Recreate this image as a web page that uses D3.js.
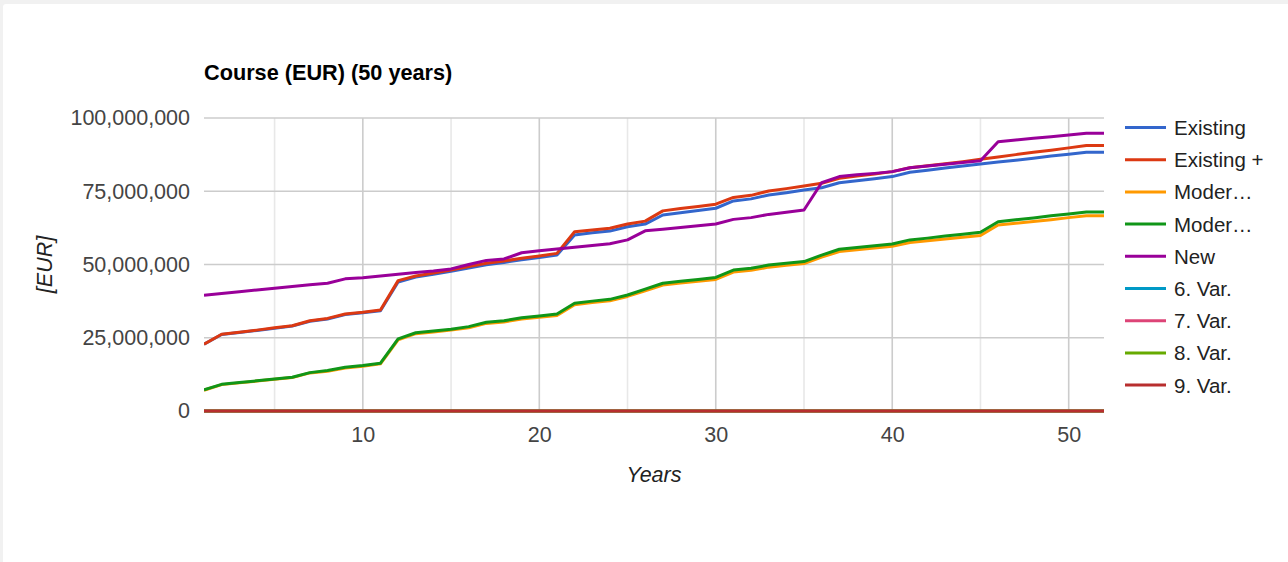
<!DOCTYPE html>
<html>
<head>
<meta charset="utf-8">
<script src="https://cdn.jsdelivr.net/npm/d3@7"></script>
<style>
  html, body { margin: 0; padding: 0; background: #f1f1f1; }
  svg { display: block; font-family: Arial, "Liberation Sans", sans-serif; }
</style>
</head>
<body>
<svg id="chart" width="1288" height="562"></svg>
<script>
// Years on the horizontal axis
const years = [1,2,3,4,5,6,7,8,9,10,11,12,13,14,15,16,17,18,19,20,21,22,23,24,25,26,
  27,28,29,30,31,32,33,34,35,36,37,38,39,40,41,42,43,44,45,46,47,48,49,50,51,52];

// Cumulative course per variant, in million EUR
const existing = [22.8,26.1,26.8,27.5,28.2,29.0,30.6,31.4,32.9,33.5,34.2,44.0,45.7,46.7,47.7,48.8,
  49.9,50.7,51.6,52.4,53.2,60.1,60.8,61.4,62.9,63.8,66.9,67.7,68.4,69.2,71.7,72.4,73.7,74.5,
  75.4,76.2,77.9,78.6,79.3,80.0,81.5,82.2,82.9,83.6,84.3,85.0,85.6,86.3,87.0,87.6,88.3,88.3];
const existingPlus = [22.8,26.2,26.9,27.6,28.4,29.1,30.8,31.6,33.1,33.7,34.5,44.5,46.1,47.1,48.1,49.3,
  50.4,51.2,52.1,52.9,53.8,61.2,61.8,62.4,63.8,64.8,68.3,69.1,69.8,70.6,72.9,73.6,75.1,75.9,
  76.8,77.7,79.4,80.2,80.9,81.7,83.0,83.7,84.4,85.1,85.9,86.7,87.5,88.3,89.0,89.8,90.6,90.6];
const moder1 = [7.1,9.0,9.6,10.2,10.8,11.4,13.0,13.6,14.7,15.3,16.1,24.3,26.4,27.0,27.6,28.4,
  29.9,30.4,31.4,32.0,32.6,36.3,37.0,37.6,39.1,41.0,43.0,43.7,44.3,44.9,47.4,48.0,49.1,49.7,
  50.3,52.5,54.4,55.0,55.6,56.2,57.5,58.1,58.7,59.3,59.9,63.5,64.1,64.7,65.3,66.0,66.6,66.6];
const moder2 = [7.2,9.1,9.7,10.3,10.9,11.5,13.1,13.8,14.9,15.5,16.3,24.6,26.7,27.3,27.9,28.8,
  30.3,30.8,31.8,32.4,33.1,36.8,37.5,38.1,39.6,41.6,43.6,44.3,44.9,45.6,48.1,48.7,49.8,50.4,
  51.0,53.2,55.2,55.8,56.4,57.0,58.4,59.0,59.7,60.3,61.0,64.6,65.3,65.9,66.6,67.2,67.9,67.9];
const newBuild = [39.5,40.1,40.7,41.3,41.9,42.5,43.1,43.6,45.1,45.5,46.1,46.7,47.3,47.8,48.5,50.0,
  51.4,51.9,54.0,54.7,55.3,55.9,56.5,57.1,58.4,61.5,62.0,62.6,63.2,63.8,65.4,66.0,67.1,67.8,
  68.6,77.9,80.0,80.6,81.1,81.7,83.0,83.6,84.2,84.8,85.4,91.9,92.5,93.1,93.6,94.2,94.8,94.8];
const var6 = [0,0,0,0,0,0,0,0,0,0,0,0,0,0,0,0,0,0,0,0,0,0,0,0,0,0,0,0,0,0,0,0,0,0,0,0,0,0,0,0,0,0,0,0,0,0,0,0,0,0,0,0];
const var7 = [0,0,0,0,0,0,0,0,0,0,0,0,0,0,0,0,0,0,0,0,0,0,0,0,0,0,0,0,0,0,0,0,0,0,0,0,0,0,0,0,0,0,0,0,0,0,0,0,0,0,0,0];
const var8 = [0,0,0,0,0,0,0,0,0,0,0,0,0,0,0,0,0,0,0,0,0,0,0,0,0,0,0,0,0,0,0,0,0,0,0,0,0,0,0,0,0,0,0,0,0,0,0,0,0,0,0,0];
const var9 = [0,0,0,0,0,0,0,0,0,0,0,0,0,0,0,0,0,0,0,0,0,0,0,0,0,0,0,0,0,0,0,0,0,0,0,0,0,0,0,0,0,0,0,0,0,0,0,0,0,0,0,0];

const seriesNames = ["Existing", "Existing +", "Moder\u2026", "Moder\u2026", "New", "6. Var.", "7. Var.", "8. Var.", "9. Var."];
const seriesValues = [existing, existingPlus, moder1, moder2, newBuild, var6, var7, var8, var9];
const seriesColors = ["#3366cc", "#dc3912", "#ff9900", "#109618", "#990099", "#0099c6", "#dd4477", "#66aa00", "#b82e2e"];

const yTicks = [0, 25000000, 50000000, 75000000, 100000000];
const xMajorTicks = [10, 20, 30, 40, 50];
const xMinorTicks = [5, 15, 25, 35, 45];

const chartTitle = "Course (EUR) (50 years)";
const xTitle = "Years";
const yTitle = "[EUR]";

const svg = d3.select("#chart");

// white card
svg.append("rect").attr("x", 3).attr("y", 4).attr("width", 1300).attr("height", 570)
  .attr("rx", 3).attr("fill", "#ffffff");

const plot = { left: 204, right: 1104, top: 118, bottom: 411 };

const x = d3.scaleLinear().domain([1, 52]).range([plot.left, plot.right]);
const y = d3.scaleLinear().domain([0, 100000000]).range([plot.bottom, plot.top]);

const fmt = d3.format(",");

// minor vertical grid
svg.append("g").selectAll("line").data(xMinorTicks).join("line")
  .attr("x1", d => x(d)).attr("x2", d => x(d))
  .attr("y1", plot.top).attr("y2", plot.bottom)
  .attr("stroke", "#e8e8e8").attr("stroke-width", 1.6);

// major vertical grid
svg.append("g").selectAll("line").data(xMajorTicks).join("line")
  .attr("x1", d => x(d)).attr("x2", d => x(d))
  .attr("y1", plot.top).attr("y2", plot.bottom)
  .attr("stroke", "#cccccc").attr("stroke-width", 1.6);

// horizontal grid
svg.append("g").selectAll("line").data(yTicks).join("line")
  .attr("x1", plot.left).attr("x2", plot.right)
  .attr("y1", d => y(d)).attr("y2", d => y(d))
  .attr("stroke", d => d === 0 ? "#333333" : "#cccccc").attr("stroke-width", 1.6);

// y axis labels
const yAxis = d3.axisLeft(y).tickValues(yTicks).tickFormat(fmt).tickSize(0).tickPadding(14);
const yg = svg.append("g").attr("transform", `translate(${plot.left},0)`).call(yAxis);
yg.select(".domain").remove();
yg.selectAll("text").attr("font-size", 21.5).attr("fill", "#444444")
  .attr("font-family", "Arial, 'Liberation Sans', sans-serif");

// x axis labels
const xAxis = d3.axisBottom(x).tickValues(xMajorTicks).tickFormat(d3.format("d")).tickSize(0).tickPadding(16);
const xg = svg.append("g").attr("transform", `translate(0,${plot.bottom})`).call(xAxis);
xg.select(".domain").remove();
xg.selectAll("text").attr("font-size", 21.5).attr("fill", "#444444")
  .attr("font-family", "Arial, 'Liberation Sans', sans-serif");

// series lines
const line = d3.line().x((d, i) => x(years[i])).y(d => y(d * 1000000));
svg.append("clipPath").attr("id", "plotClip").append("rect")
  .attr("x", plot.left).attr("y", plot.top - 5).attr("width", plot.right - plot.left).attr("height", plot.bottom - plot.top + 10);
svg.append("g").attr("clip-path", "url(#plotClip)")
  .selectAll("path").data(seriesValues).join("path")
  .attr("d", d => line(d))
  .attr("fill", "none")
  .attr("stroke", (d, i) => seriesColors[i])
  .attr("stroke-width", 3)
  .attr("stroke-linejoin", "round");

// title
svg.append("text").attr("x", 204).attr("y", 80)
  .attr("font-size", 21.7).attr("font-weight", "bold").attr("fill", "#000000")
  .text(chartTitle);

// axis titles
svg.append("text").attr("x", (plot.left + plot.right) / 2).attr("y", 482)
  .attr("text-anchor", "middle").attr("font-size", 21.5).attr("font-style", "italic").attr("fill", "#222222")
  .text(xTitle);
svg.append("text").attr("transform", `translate(52,${(plot.top + plot.bottom) / 2}) rotate(-90)`)
  .attr("text-anchor", "middle").attr("font-size", 21.5).attr("font-style", "italic").attr("fill", "#222222")
  .text(yTitle);

// legend
const legend = svg.append("g").selectAll("g").data(seriesNames).join("g")
  .attr("transform", (d, i) => `translate(1125,${127.5 + i * 32.2})`);
legend.append("line").attr("x1", 0).attr("x2", 41).attr("y1", 0).attr("y2", 0)
  .attr("stroke", (d, i) => seriesColors[i]).attr("stroke-width", 3);
legend.append("text").attr("x", 49).attr("y", 7.5)
  .attr("font-size", 20.5).attr("fill", "#222222").text(d => d);
</script>
</body>
</html>
